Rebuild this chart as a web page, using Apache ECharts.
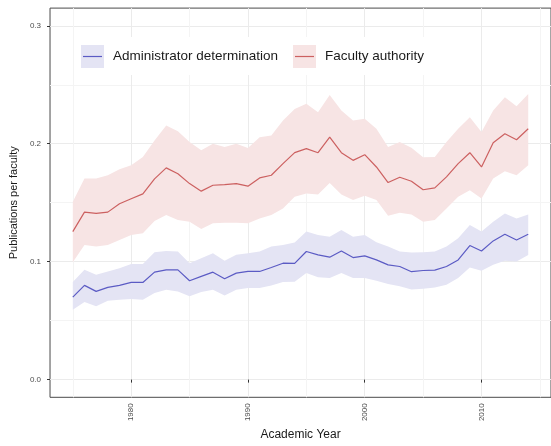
<!DOCTYPE html>
<html>
<head>
<meta charset="utf-8">
<script src="https://cdn.jsdelivr.net/npm/echarts@6/dist/echarts.min.js"></script>
<style>
  html, body { margin: 0; padding: 0; background: #ffffff; }
  #chart { width: 551px; height: 446px; }
</style>
</head>
<body>
<div id="chart"></div>
<script>
// Academic years covered by the series
const years = [1975, 1976, 1977, 1978, 1979, 1980, 1981, 1982, 1983, 1984,
               1985, 1986, 1987, 1988, 1989, 1990, 1991, 1992, 1993, 1994,
               1995, 1996, 1997, 1998, 1999, 2000, 2001, 2002, 2003, 2004,
               2005, 2006, 2007, 2008, 2009, 2010, 2011, 2012, 2013, 2014];

// Administrator determination: estimate and confidence band
const adminMean = [0.0700, 0.0799, 0.0748, 0.0782, 0.0799, 0.0824, 0.0824, 0.0911, 0.0931, 0.0930,
                   0.0838, 0.0875, 0.0911, 0.0855, 0.0903, 0.0917, 0.0917, 0.0951, 0.0987, 0.0985,
                   0.1086, 0.1058, 0.1038, 0.1091, 0.1035, 0.1049, 0.1015, 0.0973, 0.0959, 0.0915,
                   0.0925, 0.0928, 0.0959, 0.1015, 0.1137, 0.1091, 0.1176, 0.1232, 0.1184, 0.1232];
const adminLow  = [0.0593, 0.0658, 0.0622, 0.0669, 0.0678, 0.0684, 0.0678, 0.0734, 0.0762, 0.0748,
                   0.0706, 0.0743, 0.0762, 0.0714, 0.0762, 0.0776, 0.0776, 0.0799, 0.0827, 0.0830,
                   0.0903, 0.0867, 0.0861, 0.0903, 0.0861, 0.0861, 0.0838, 0.0810, 0.0791, 0.0765,
                   0.0771, 0.0782, 0.0804, 0.0861, 0.0951, 0.0922, 0.0973, 0.1007, 0.1002, 0.1057];
const adminHigh = [0.0827, 0.0931, 0.0889, 0.0917, 0.0945, 0.0981, 0.0981, 0.1080, 0.1091, 0.1086,
                   0.0987, 0.1030, 0.1072, 0.1007, 0.1058, 0.1072, 0.1086, 0.1128, 0.1142, 0.1163,
                   0.1255, 0.1226, 0.1212, 0.1268, 0.1212, 0.1226, 0.1165, 0.1128, 0.1086, 0.1078,
                   0.1080, 0.1086, 0.1128, 0.1198, 0.1311, 0.1255, 0.1339, 0.1409, 0.1367, 0.1401];

// Faculty authority: estimate and confidence band
const facultyMean = [0.1255, 0.1420, 0.1409, 0.1420, 0.1491, 0.1533, 0.1575, 0.1702, 0.1795, 0.1745,
                     0.1662, 0.1598, 0.1648, 0.1654, 0.1662, 0.1640, 0.1710, 0.1733, 0.1831, 0.1925,
                     0.1958, 0.1924, 0.2056, 0.1924, 0.1859, 0.1907, 0.1803, 0.1671, 0.1716, 0.1682,
                     0.1610, 0.1626, 0.1719, 0.1831, 0.1924, 0.1803, 0.2008, 0.2084, 0.2034, 0.2127];
const facultyLow  = [0.0996, 0.1142, 0.1128, 0.1142, 0.1184, 0.1226, 0.1240, 0.1344, 0.1395, 0.1353,
                     0.1339, 0.1277, 0.1325, 0.1331, 0.1331, 0.1325, 0.1367, 0.1395, 0.1451, 0.1550,
                     0.1578, 0.1570, 0.1668, 0.1570, 0.1522, 0.1559, 0.1522, 0.1390, 0.1415, 0.1400,
                     0.1339, 0.1353, 0.1451, 0.1550, 0.1606, 0.1536, 0.1705, 0.1766, 0.1733, 0.1817];
const facultyHigh = [0.1508, 0.1705, 0.1705, 0.1732, 0.1783, 0.1817, 0.1888, 0.2028, 0.2155, 0.2105,
                     0.2014, 0.1944, 0.2000, 0.1972, 0.2000, 0.1963, 0.2056, 0.2070, 0.2197, 0.2295,
                     0.2338, 0.2267, 0.2414, 0.2281, 0.2197, 0.2211, 0.2127, 0.1972, 0.2014, 0.1965,
                     0.1885, 0.1888, 0.2014, 0.2127, 0.2225, 0.2099, 0.2281, 0.2394, 0.2318, 0.2422];

// Axis ticks and grid lines
const xMajorTicks = [1980, 1990, 2000, 2010];
const xMinorTicks = [1975, 1985, 1995, 2005, 2015];
const yMajorTicks = [0, 0.1, 0.2, 0.3];
const yMinorTicks = [0.05, 0.15, 0.25];

const seriesNames = ['Administrator determination', 'Faculty authority'];

// Colours
const adminLine = '#5b5bc4';
const adminFill = '#e4e4f4';
const facultyLine = '#cc6060';
const facultyFill = '#f7e4e4';

const pairs = (vals) => years.map((y, i) => [y, vals[i]]);
const bandRows = (lo, hi) => years.map((y, i) => [y, lo[i], hi[i]]);

const X_MIN = 1973.05, X_MAX = 2015.95;
const Y_MIN = -0.015, Y_MAX = 0.315;
const FONT = 'Liberation Sans, Arial, sans-serif';

// Ribbon: one closed polygon along the upper edge and back along the lower edge
function bandSeries(lo, hi, fill) {
  const rows = bandRows(lo, hi);
  return {
    type: 'custom', data: rows, silent: true, z: 2, clip: true,
    encode: { x: 0, y: [1, 2] },
    renderItem: (params, api) => {
      if (params.dataIndex !== 0) return null;
      const upper = rows.map(r => api.coord([r[0], r[2]]));
      const lower = rows.map(r => api.coord([r[0], r[1]])).reverse();
      return {
        type: 'polygon',
        shape: { points: upper.concat(lower) },
        style: { fill: fill, stroke: null }
      };
    }
  };
}

const chart = echarts.init(document.getElementById('chart'), null, { renderer: 'canvas' });

const axisText = { color: '#4d4d4d', fontSize: 8, fontFamily: FONT };
const titleText = { color: '#1a1a1a', fontSize: 12, fontFamily: FONT };

chart.setOption({
  animation: false,
  backgroundColor: '#ffffff',
  grid: {
    left: 49, right: -9.8, top: 8.1, bottom: 45.1,
    show: true, borderColor: '#4a4a4a', borderWidth: 1, backgroundColor: 'transparent'
  },
  xAxis: [
    {
      type: 'value', min: X_MIN, max: X_MAX, position: 'bottom',
      name: 'Academic Year', nameLocation: 'middle', nameGap: 31,
      nameTextStyle: titleText,
      axisLine: { show: false },
      axisTick: { show: true, length: 3, customValues: xMajorTicks, lineStyle: { color: '#333333' } },
      axisLabel: { show: true, customValues: xMajorTicks, rotate: 90, margin: 6, ...axisText,
                   formatter: (v) => String(v) },
      splitLine: { show: true, lineStyle: { color: '#ebebeb', width: 1 } }
    },
    {
      type: 'value', min: X_MIN, max: X_MAX, position: 'top',
      axisLine: { show: false },
      axisTick: { show: false, customValues: xMinorTicks },
      axisLabel: { show: false },
      splitLine: { show: true, lineStyle: { color: '#f4f4f4', width: 1 } }
    }
  ],
  yAxis: [
    {
      type: 'value', min: Y_MIN, max: Y_MAX, position: 'left',
      name: 'Publications per faculty', nameLocation: 'middle', nameGap: 23,
      nameTextStyle: { ...titleText, fontSize: 11 },
      axisLine: { show: false },
      axisTick: { show: true, length: 3, customValues: yMajorTicks, lineStyle: { color: '#333333' } },
      axisLabel: { show: true, customValues: yMajorTicks, margin: 9, ...axisText,
                   formatter: (v) => v.toFixed(1) },
      splitLine: { show: true, lineStyle: { color: '#ebebeb', width: 1 } }
    },
    {
      type: 'value', min: Y_MIN, max: Y_MAX, position: 'right',
      axisLine: { show: false },
      axisTick: { show: false, customValues: yMinorTicks },
      axisLabel: { show: false },
      splitLine: { show: true, lineStyle: { color: '#f4f4f4', width: 1 } }
    }
  ],
  series: [
    bandSeries(adminLow, adminHigh, adminFill),
    bandSeries(facultyLow, facultyHigh, facultyFill),
    { name: seriesNames[0], type: 'line', data: pairs(adminMean), symbol: 'none',
      lineStyle: { color: adminLine, width: 1.2 }, z: 3 },
    { name: seriesNames[1], type: 'line', data: pairs(facultyMean), symbol: 'none',
      lineStyle: { color: facultyLine, width: 1.2 }, z: 3 }
  ],
  graphic: [
    {
      type: 'group', left: 74, top: 37, silent: true, z: 100,
      children: [
        { type: 'rect', z: 100, shape: { x: 0, y: 0, width: 356, height: 38 }, style: { fill: '#ffffff' } },
        { type: 'rect', z: 101, shape: { x: 7, y: 8, width: 23, height: 23 }, style: { fill: adminFill } },
        { type: 'line', z: 102, shape: { x1: 9, y1: 19.5, x2: 28, y2: 19.5 }, style: { stroke: adminLine, lineWidth: 1.2 } },
        { type: 'text', z: 102, x: 39, y: 19.5, style: { text: seriesNames[0], fill: '#1a1a1a', fontSize: 13.5,
          fontFamily: FONT, verticalAlign: 'middle' } },
        { type: 'rect', z: 101, shape: { x: 219, y: 8, width: 23, height: 23 }, style: { fill: facultyFill } },
        { type: 'line', z: 102, shape: { x1: 221, y1: 19.5, x2: 240, y2: 19.5 }, style: { stroke: facultyLine, lineWidth: 1.2 } },
        { type: 'text', z: 102, x: 251, y: 19.5, style: { text: seriesNames[1], fill: '#1a1a1a', fontSize: 13.5,
          fontFamily: FONT, verticalAlign: 'middle' } }
      ]
    }
  ]
});
</script>
</body>
</html>
